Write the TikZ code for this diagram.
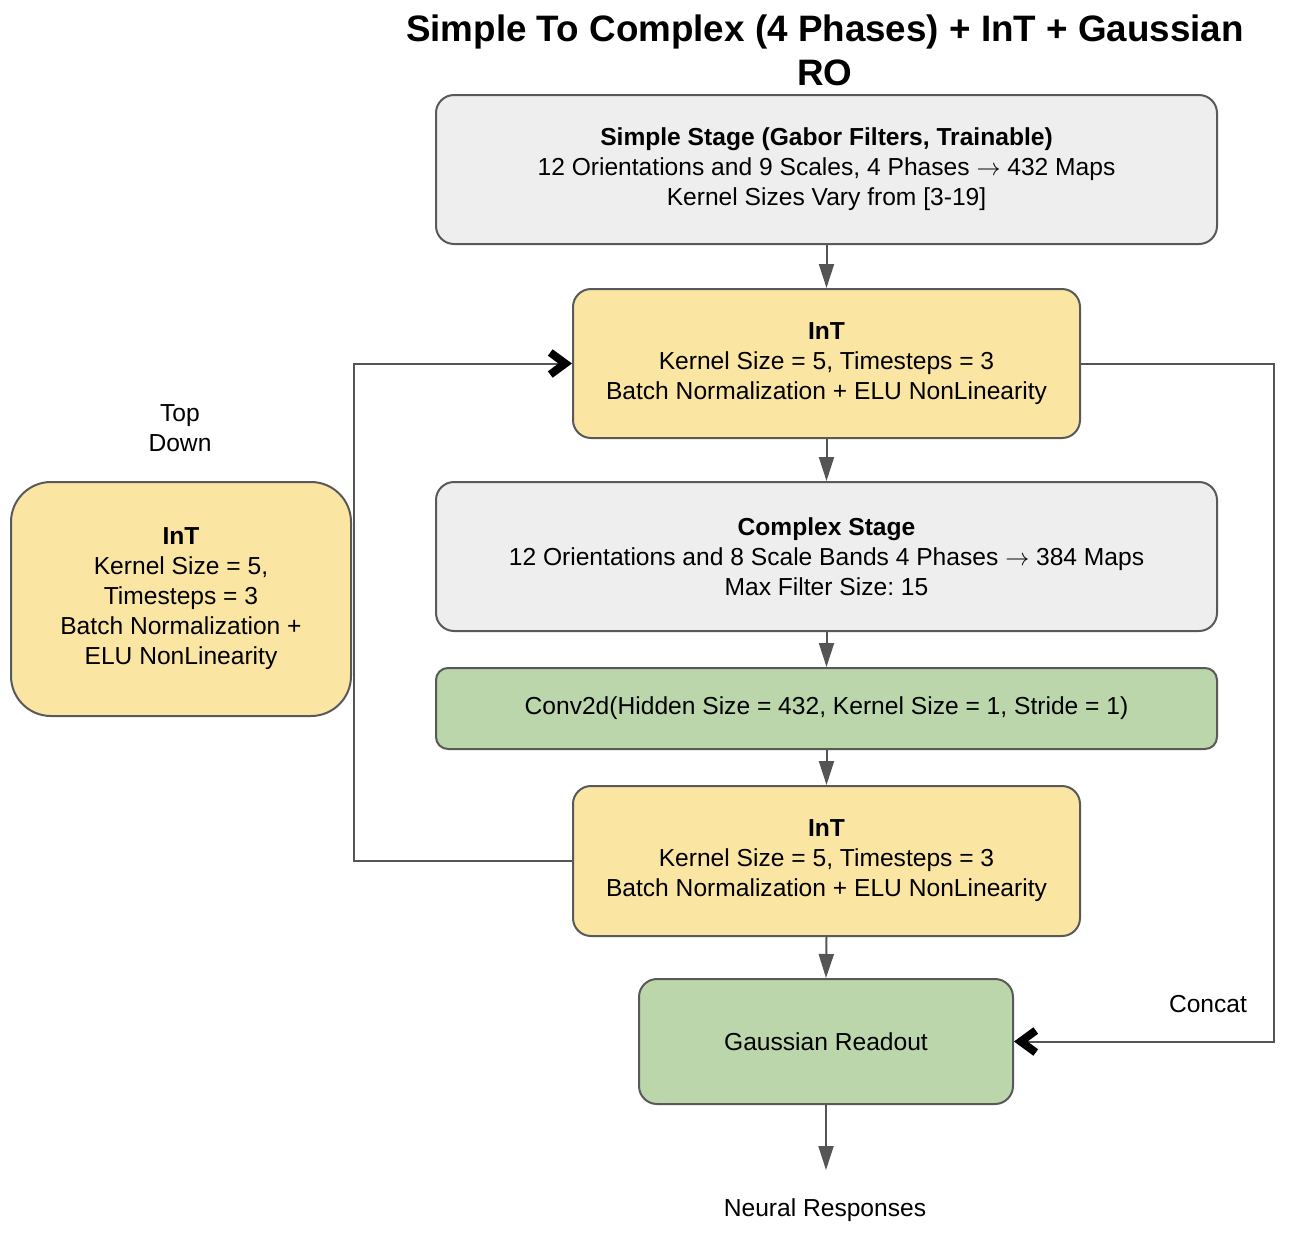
\documentclass[tikz,border=0pt]{standalone}
\usepackage{fontspec}
\setmainfont{Liberation Sans}
\newcommand{\myarr}{$\rightarrow$}
\usetikzlibrary{arrows.meta}
\definecolor{boxgray}{HTML}{EEEEEE}
\definecolor{boxyellow}{HTML}{FAE5A3}
\definecolor{boxgreen}{HTML}{BAD6AA}
\definecolor{edgecol}{HTML}{595959}
\definecolor{linecol}{HTML}{555555}
\tikzset{
  x=0.5pt, y=-0.5pt,
  base/.style={draw=edgecol, line width=1pt, rounded corners=9pt, align=center,
    font=\fontsize{12.3}{15}\selectfont\frenchspacing, inner sep=0pt, anchor=north west},
  graybox/.style={base, fill=boxgray},
  yellowbox/.style={base, fill=boxyellow},
  greenbox/.style={base, fill=boxgreen},
  lbl/.style={align=center, font=\fontsize{12.3}{15}\selectfont, inner sep=0pt},
  conn/.style={draw=linecol, line width=1pt},
  flow/.style={conn, -{Triangle[length=12pt, width=7.5pt, fill=linecol, color=linecol]}},
  chev/.style={conn, -{Straight Barb[length=7.5pt, width=11pt, line width=4pt, color=black]}},
}
\begin{document}
\begin{tikzpicture}
\useasboundingbox (0,0) rectangle (1292,1238);
\node[font=\fontsize{18.4}{22}\selectfont\bfseries, align=center, inner sep=0pt] (title) at (825,50)
  {Simple To Complex (4 Phases) + InT + Gaussian\\RO};
\node[graybox, minimum width=390.5pt, minimum height=74.5pt] (simple) at (435,94)
  {\textbf{Simple Stage (Gabor Filters, Trainable)}\\12 Orientations and 9 Scales, 4 Phases \myarr{} 432 Maps\\Kernel Sizes Vary from [3-19]};
\node[yellowbox, minimum width=253.5pt, minimum height=74.5pt] (int1) at (572,288)
  {\textbf{InT}\\Kernel Size = 5, Timesteps = 3\\Batch Normalization + ELU NonLinearity};
\node[graybox, minimum width=390.5pt, minimum height=74.5pt] (complex) at (435,481)
  {\textbf{Complex Stage}\\12 Orientations and 8 Scale Bands 4 Phases \myarr{} 384 Maps\\Max Filter Size: 15};
\node[greenbox, rounded corners=6pt, minimum width=390.5pt, minimum height=40.5pt] (conv) at (435,667)
  {Conv2d(Hidden Size = 432, Kernel Size = 1, Stride = 1)};
\node[yellowbox, minimum width=253.5pt, minimum height=75pt] (int2) at (572,785)
  {\textbf{InT}\\Kernel Size = 5, Timesteps = 3\\Batch Normalization + ELU NonLinearity};
\node[greenbox, minimum width=187pt, minimum height=62.5pt] (gauss) at (638,978)
  {Gaussian Readout};
\node[yellowbox, rounded corners=20pt, minimum width=170pt, minimum height=117pt] (intl) at (10,481)
  {\textbf{InT}\\Kernel Size = 5,\\Timesteps = 3\\Batch Normalization +\\ELU NonLinearity};
\node[lbl] (topdown) at (180,428) {Top\\Down};
\node[lbl] (concat) at (1208,1004) {Concat};
\node[lbl] (neural) at (825,1210) {Neural Responses};
\coordinate (outend) at (825,1170);
\coordinate (fbx) at (354,0);
\coordinate (crx) at (1274,0);

\draw[flow] (simple.south) -- (int1.north);
\draw[flow] (int1.south) -- (complex.north);
\draw[flow] (complex.south) -- (conv.north);
\draw[flow] (conv.south) -- (int2.north);
\draw[flow] (int2.south) -- (gauss.north);
\draw[flow] (gauss.south) -- (gauss.south |- outend);
\draw[chev] (int2.west) -- (fbx |- int2.west) -- (fbx |- int1.west) -- (int1.west);
\draw[chev] (int1.east) -- (crx |- int1.east) -- (crx |- gauss.east) -- (gauss.east);
\end{tikzpicture}
\end{document}
